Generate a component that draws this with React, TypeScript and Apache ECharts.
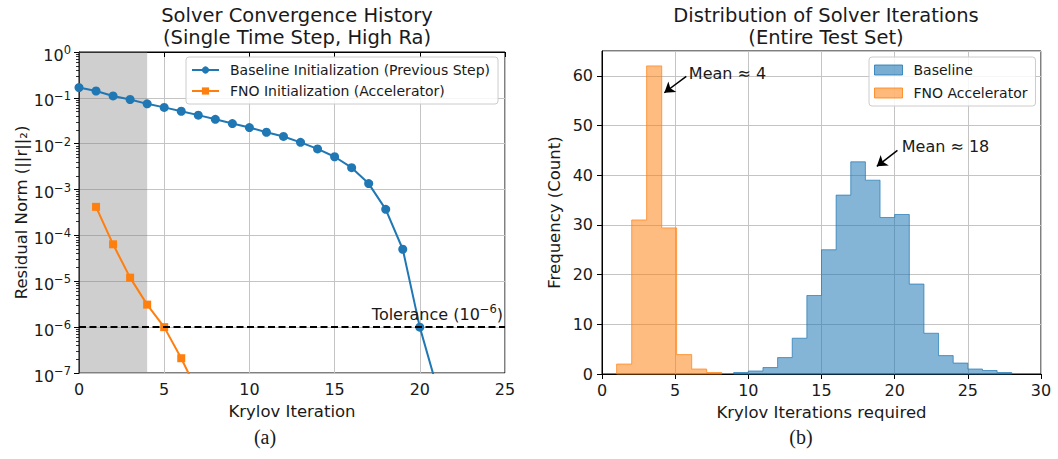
import React, { useEffect, useRef } from "react";
import * as echarts from "echarts";

// ---- Panel (a): convergence history ----
const baseIter = [0, 1, 2, 3, 4, 5, 6, 7, 8, 9, 10, 11, 12, 13, 14, 15, 16, 17, 18, 19, 20, 21];
const baseResidual = [0.168, 0.141, 0.11, 0.092, 0.074, 0.062, 0.051, 0.042, 0.034, 0.0275, 0.0225, 0.0178, 0.0144, 0.0107, 0.0077, 0.0052, 0.003, 0.00135, 0.00037, 5.0e-5, 1.0e-6, 5e-8];
const fnoIter = [1, 2, 3, 4, 5, 6, 7];
const fnoResidual = [4.2e-4, 6.4e-5, 1.2e-5, 3.1e-6, 1.0e-6, 2.1e-7, 3.6e-8];
const tolerance = 1e-6;
const shadeRange = [0, 4];

// ---- Panel (b): histogram ----
const fnoEdges = [1, 2.03, 3.05, 4.08, 5.1, 6.13, 7.15, 8.18];
const fnoCounts = [2, 31, 62, 29.4, 3.9, 1, 0.3];
const baseEdges = [9, 10, 11, 12, 13, 14, 15, 16, 17, 18, 19, 20, 21, 22, 23, 24, 25, 26, 27, 28];
const baseCounts = [0.3, 0.6, 1.3, 3.3, 7.2, 15.8, 25, 36, 42.7, 39, 31.5, 32.1, 18.1, 8.2, 3.7, 2.2, 1.0, 0.7, 0.3];

const FONT = "DejaVu Sans";
const TXT = "#1a1a1a";
const BLUE = "#1f77b4";
const ORANGE = "#ff7f0e";

const expText = (n: number) => (n < 0 ? "\u2212" + Math.abs(n) : String(n));
const powLabel = (n: number) => "{b|10}{s|" + expText(n) + "}";
const powRich = {
  b: { fontFamily: FONT, fontSize: 16, color: TXT, lineHeight: 22, verticalAlign: "middle" },
  s: { fontFamily: FONT, fontSize: 11.5, color: TXT, lineHeight: 11, verticalAlign: "top" },
};

// minor tick positions in log10 units
const minorTicks: number[] = [];
for (let e = -7; e < 0; e++) for (let k = 2; k <= 9; k++) minorTicks.push(e + Math.log10(k));

function histRender(edges: number[], counts: number[], fill: string, stroke: string) {
  return (params: any, api: any) => {
    const pts: number[][] = [api.coord([edges[0], 0])];
    counts.forEach((c, i) => {
      pts.push(api.coord([edges[i], c]));
      pts.push(api.coord([edges[i + 1], c]));
    });
    pts.push(api.coord([edges[edges.length - 1], 0]));
    return {
      type: "polygon",
      shape: { points: pts },
      style: { fill, stroke, lineWidth: 1 },
    };
  };
}

const axisCommon = {
  axisLine: { show: true, lineStyle: { color: "#000", width: 1 } },
  axisTick: { show: true, length: 5, lineStyle: { color: "#000", width: 1 } },
  axisLabel: { color: TXT, fontFamily: FONT, fontSize: 16 },
  splitLine: { show: true, lineStyle: { color: "#c4c4c4", width: 1 } },
  nameTextStyle: { color: TXT, fontFamily: FONT, fontSize: 16.5 },
};

const titleStyle = { fontFamily: FONT, fontSize: 19.5, fontWeight: "normal", color: TXT, lineHeight: 22 };

export default function App() {
  const ref = useRef<HTMLDivElement>(null);
  useEffect(() => {
    const chart = echarts.init(ref.current!, null, { renderer: "svg" });
    const option: any = {
      animation: false,
      backgroundColor: "#fff",
      title: [
        { text: "Solver Convergence History\n(Single Time Step, High Ra)", left: 292, top: -1, textAlign: "center", textStyle: titleStyle },
        { text: "Distribution of Solver Iterations\n(Entire Test Set)", left: 821, top: -1, textAlign: "center", textStyle: titleStyle },
      ],
      grid: [
        { left: 79, top: 52, width: 426, height: 321, show: true, borderColor: "#000", borderWidth: 1, backgroundColor: "transparent" },
        { left: 602, top: 51, width: 439, height: 323, show: true, borderColor: "#000", borderWidth: 1, backgroundColor: "transparent" },
      ],
      legend: [
        {
          data: ["Baseline Initialization (Previous Step)", "FNO Initialization (Accelerator)"],
          orient: "vertical",
          left: 186,
          top: 57,
          padding: [6, 8, 6, 5],
          itemGap: 7,
          itemWidth: 27,
          itemHeight: 9,
          backgroundColor: "rgba(255,255,255,0.85)",
          borderColor: "#cccccc",
          borderWidth: 1,
          borderRadius: 3,
          textStyle: { fontFamily: FONT, fontSize: 14, color: TXT, padding: [0, 0, 0, 6] },
        },
        {
          data: [
            { name: "Baseline", icon: "rect", itemStyle: { color: "rgba(31,119,180,0.6)", borderColor: "rgba(31,119,180,0.8)", borderWidth: 1 } },
            { name: "FNO Accelerator", icon: "rect", itemStyle: { color: "rgba(255,127,14,0.55)", borderColor: "rgba(255,127,14,0.8)", borderWidth: 1 } },
          ],
          orient: "vertical",
          left: 869,
          top: 57,
          padding: [6, 8, 6, 5],
          itemGap: 9,
          itemWidth: 28,
          itemHeight: 10,
          backgroundColor: "rgba(255,255,255,0.85)",
          borderColor: "#cccccc",
          borderWidth: 1,
          borderRadius: 3,
          textStyle: { fontFamily: FONT, fontSize: 14, color: TXT, padding: [0, 0, 0, 6] },
        },
      ],
      xAxis: [
        {
          ...axisCommon,
          type: "value",
          gridIndex: 0,
          min: 0,
          max: 25,
          interval: 5,
          name: "Krylov Iteration",
          nameLocation: "middle",
          nameGap: 30,
          axisLabel: { ...axisCommon.axisLabel, margin: 8 },
        },
        {
          ...axisCommon,
          type: "value",
          gridIndex: 1,
          min: 0,
          max: 30,
          interval: 5,
          name: "Krylov Iterations required",
          nameLocation: "middle",
          nameGap: 30,
          axisLabel: { ...axisCommon.axisLabel, margin: 8 },
        },
      ],
      yAxis: [
        {
          ...axisCommon,
          type: "log",
          logBase: 10,
          gridIndex: 0,
          position: "left",
          min: 1e-7,
          max: 1,
          splitNumber: 7,
          name: "Residual Norm (||r||₂)",
          nameLocation: "middle",
          nameGap: 47,
          axisLabel: {
            ...axisCommon.axisLabel,
            margin: 8,
            padding: [6, 0, 0, 0],
            formatter: (v: number) => powLabel(Math.round(Math.log10(v))),
            rich: powRich,
          },
        },
        {
          type: "value",
          gridIndex: 0,
          position: "left",
          offset: 0,
          min: -7,
          max: 0,
          axisLine: { show: false, onZero: false },
          axisLabel: { show: false },
          splitLine: { show: false },
          axisTick: { show: true, length: 3, customValues: minorTicks, lineStyle: { color: "#000", width: 0.8 } },
        },
        {
          ...axisCommon,
          type: "value",
          gridIndex: 1,
          position: "left",
          min: 0,
          max: 65,
          interval: 10,
          name: "Frequency (Count)",
          nameLocation: "middle",
          nameGap: 39,
          axisLabel: { ...axisCommon.axisLabel, margin: 9, showMaxLabel: false },
        },
      ],
      series: [
        {
          name: "Baseline Initialization (Previous Step)",
          type: "line",
          xAxisIndex: 0,
          yAxisIndex: 0,
          data: baseIter.map((x, i) => [x, baseResidual[i]]),
          symbol: "circle",
          symbolSize: 9,
          clip: true,
          itemStyle: { color: BLUE },
          lineStyle: { color: BLUE, width: 2 },
          z: 3,
          markArea: {
            silent: true,
            itemStyle: { color: "rgba(128,128,128,0.38)" },
            data: [[{ xAxis: shadeRange[0] }, { xAxis: shadeRange[1] }]],
          },
        },
        {
          name: "FNO Initialization (Accelerator)",
          type: "line",
          xAxisIndex: 0,
          yAxisIndex: 0,
          data: fnoIter.map((x, i) => [x, fnoResidual[i]]),
          symbol: "rect",
          symbolSize: 8,
          clip: true,
          itemStyle: { color: ORANGE },
          lineStyle: { color: ORANGE, width: 2 },
          z: 3,
          markLine: {
            silent: true,
            symbol: "none",
            lineStyle: { color: "#000", width: 2, type: [7, 3.5] },
            data: [[{ coord: [0, tolerance] }, { coord: [25, tolerance] }]],
            label: {
              show: true,
              position: "insideEndTop",
              formatter: "{t|Tolerance (}" + powLabel(-6) + "{t|)}",
              rich: {
                b: { fontFamily: FONT, fontSize: 16, color: TXT, lineHeight: 22, verticalAlign: "middle" },
                s: { fontFamily: FONT, fontSize: 11.5, color: TXT, lineHeight: 14, verticalAlign: "top" },
                t: { fontFamily: FONT, fontSize: 16, color: TXT, lineHeight: 22, verticalAlign: "middle" },
              },
              distance: 2,
            },
          },
        },
        {
          name: "Baseline",
          type: "custom",
          xAxisIndex: 1,
          yAxisIndex: 2,
          data: [[baseEdges[0], 0]],
          itemStyle: { color: "rgba(31,119,180,0.6)" },
          renderItem: histRender(baseEdges, baseCounts, "rgba(31,119,180,0.55)", "rgba(31,119,180,0.7)"),
          markLine: {
            silent: true,
            symbol: ["none", "arrow"],
            symbolSize: 10,
            lineStyle: { color: "#000", width: 1.5, type: "solid" },
            label: { show: false },
            data: [[{ coord: [20.19, 45.0] }, { coord: [18.78, 41.8] }]],
          },
          markPoint: {
            silent: true,
            symbol: "circle",
            symbolSize: 1,
            itemStyle: { color: "transparent" },
            label: { show: true, position: "right", distance: 0, formatter: "Mean ≈ 18", fontFamily: FONT, fontSize: 16, color: TXT },
            data: [{ coord: [20.45, 45.8] }],
          },
        },
        {
          name: "FNO Accelerator",
          type: "custom",
          xAxisIndex: 1,
          yAxisIndex: 2,
          data: [[fnoEdges[0], 0]],
          itemStyle: { color: "rgba(255,127,14,0.55)" },
          renderItem: histRender(fnoEdges, fnoCounts, "rgba(255,127,14,0.52)", "rgba(255,127,14,0.7)"),
          markLine: {
            silent: true,
            symbol: ["none", "arrow"],
            symbolSize: 10,
            lineStyle: { color: "#000", width: 1.5, type: "solid" },
            label: { show: false },
            data: [[{ coord: [5.76, 59.9] }, { coord: [4.26, 56.6] }]],
          },
          markPoint: {
            silent: true,
            symbol: "circle",
            symbolSize: 1,
            itemStyle: { color: "transparent" },
            label: { show: true, position: "right", distance: 0, formatter: "Mean ≈ 4", fontFamily: FONT, fontSize: 16, color: TXT },
            data: [{ coord: [5.9, 60.4] }],
          },
        },
      ],
      graphic: [
        { type: "text", x: 265, y: 437, style: { text: "(a)", font: "20px 'Liberation Serif', serif", fill: TXT, align: "center", verticalAlign: "middle" } },
        { type: "text", x: 801, y: 437, style: { text: "(b)", font: "20px 'Liberation Serif', serif", fill: TXT, align: "center", verticalAlign: "middle" } },
      ],
    };
    chart.setOption(option);
    return () => chart.dispose();
  }, []);
  return <div ref={ref} style={{ position: "absolute", left: 0, top: 0, width: 1058, height: 459 }} />;
}
